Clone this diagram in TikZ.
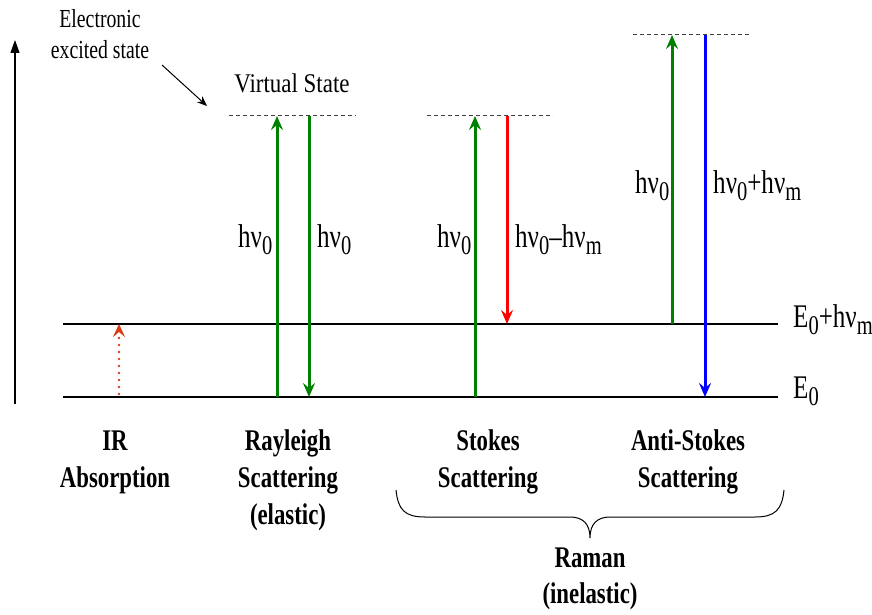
\documentclass[tikz,border=0pt]{standalone}
\usepackage{fontspec}
\setmainfont[FakeStretch=0.76]{Liberation Serif}
\newfontfamily\wideserif[FakeStretch=0.85]{Liberation Serif}
\usetikzlibrary{arrows.meta}
\definecolor{grn}{RGB}{0,128,0}
\definecolor{irc}{RGB}{220,60,20}
\newcommand{\lowsub}[1]{\raisebox{-7.5pt}{\fontsize{27}{28}\selectfont #1}}
\newcommand{\hnu}[1]{hν\lowsub{#1}}
\tikzset{
  lvl/.style={line width=1.4pt, black},
  virt/.style={line width=1pt, black!75, dash pattern=on 4pt off 3pt},
  tr/.style={line width=3pt, -{Stealth[length=14pt,width=12pt,inset=5pt]}},
  lbl/.style={font=\fontsize{33}{35}\selectfont, inner sep=0pt, anchor=base west},
  cat/.style={font=\fontsize{30}{32}\selectfont\bfseries, inner sep=0pt, anchor=base},
  note/.style={font=\fontsize{26}{28}\selectfont, inner sep=0pt, anchor=base}
}
\begin{document}
\begin{tikzpicture}[x=1pt,y=-1pt]
\useasboundingbox (0,0) rectangle (872,615);
% axis
\coordinate (ax0) at (15,404);
\coordinate (ax1) at (15,40);
\draw[line width=1.2pt, -{Triangle[length=13pt,width=9pt]}] (ax0) -- (ax1);
% levels
\coordinate (g0) at (63,397); \coordinate (g1) at (778,397);
\coordinate (e0) at (63,324); \coordinate (e1) at (778,324);
\draw[lvl] (g0) -- (g1);
\draw[lvl] (e0) -- (e1);
\node[lbl] (lE0) at (793,398) {E\lowsub{0}};
\node[lbl] (lE1) at (793,327) {E\lowsub{0}+hν\lowsub{m}};
% virtual states
\coordinate (v1a) at (229,116); \coordinate (v1b) at (356,116);
\coordinate (v2a) at (427,116); \coordinate (v2b) at (553,116);
\coordinate (v3a) at (633,35);  \coordinate (v3b) at (751,35);
\draw[virt] (v1a) -- (v1b);
\draw[virt] (v2a) -- (v2b);
\draw[virt] (v3a) -- (v3b);
% notes
\node[note] (elec1) at (100,28) {Electronic};
\node[note] (elec2) at (100,59) {excited state};
\coordinate (ea) at (162,65); \coordinate (eb) at (207,106);
\draw[line width=1pt, -{Stealth[length=10pt,width=8pt]}] (ea) -- (eb);
\node[font=\wideserif\fontsize{27}{29}\selectfont, inner sep=0pt, anchor=base] (virtual) at (292,93) {Virtual State};
% IR absorption
\coordinate (ir0) at (119,394); \coordinate (ir1) at (119,324);
\draw[irc, line width=2.6pt, dash pattern=on 0pt off 7pt, line cap=round, -{Stealth[length=13pt,width=12pt,inset=5pt,line cap=butt]}] (ir0) -- (ir1);
% Rayleigh
\coordinate (r1b) at (277,397); \coordinate (r1t) at (277,116);
\coordinate (r2t) at (309,116); \coordinate (r2b) at (309,397);
\draw[tr, grn] (r1b) -- (r1t);
\draw[tr, grn] (r2t) -- (r2b);
\node[lbl] (rl1) at (238,247) {\hnu{0}};
\node[lbl] (rl2) at (317,247) {\hnu{0}};
% Stokes
\coordinate (s1b) at (475,397); \coordinate (s1t) at (475,116);
\coordinate (s2t) at (507,116); \coordinate (s2b) at (507,324);
\draw[tr, grn] (s1b) -- (s1t);
\draw[tr, red] (s2t) -- (s2b);
\node[lbl] (sl1) at (437,247) {\hnu{0}};
\node[lbl] (sl2) at (515,247) {\hnu{0}–hν\lowsub{m}};
% Anti-Stokes
\coordinate (a1b) at (672,324); \coordinate (a1t) at (672,35);
\coordinate (a2t) at (705,35); \coordinate (a2b) at (705,397);
\draw[tr, grn] (a1b) -- (a1t);
\draw[tr, blue] (a2t) -- (a2b);
\node[lbl] (al1) at (635,193) {\hnu{0}};
\node[lbl] (al2) at (713,193) {\hnu{0}+hν\lowsub{m}};
% categories
\node[cat] (cIR1) at (115,450) {IR};
\node[cat] (cIR2) at (115,487) {Absorption};
\node[cat] (cRay1) at (288,450) {Rayleigh};
\node[cat] (cRay2) at (288,487) {Scattering};
\node[cat] (cRay3) at (288,524) {(elastic)};
\node[cat] (cSt1) at (488,450) {Stokes};
\node[cat] (cSt2) at (488,487) {Scattering};
\node[cat] (cAS1) at (688,450) {Anti-Stokes};
\node[cat] (cAS2) at (688,487) {Scattering};
% brace
\coordinate (bl) at (396,490); \coordinate (bt) at (590,538); \coordinate (br) at (784,490);
\draw[line width=1pt] (bl) .. controls (398,510) and (405,517) .. (425,517) -- (570,517)
  .. controls (583,517) and (590,524) .. (bt)
  .. controls (590,524) and (597,517) .. (610,517) -- (755,517)
  .. controls (775,517) and (782,510) .. (br);
\node[cat] (raman1) at (590,567) {Raman};
\node[cat] (raman2) at (590,603) {(inelastic)};
\end{tikzpicture}
\end{document}
